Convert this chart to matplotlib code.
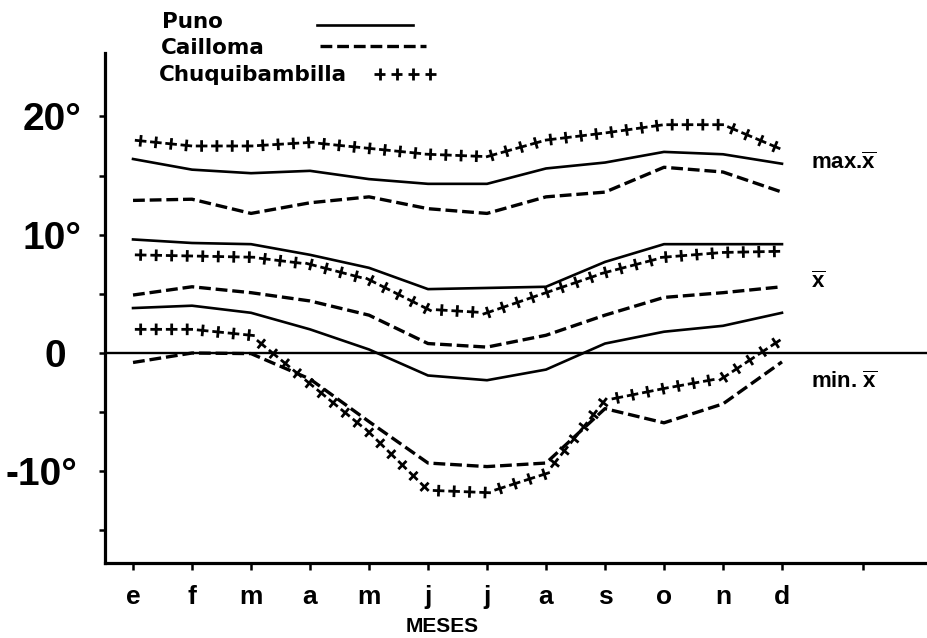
import matplotlib
matplotlib.use('Agg')
import matplotlib.pyplot as plt
from matplotlib import patheffects as pe
from matplotlib import font_manager as fm
from matplotlib.lines import Line2D
from matplotlib.transforms import ScaledTranslation

# ---------------- data ----------------
months = ['e', 'f', 'm', 'a', 'm', 'j', 'j', 'a', 's', 'o', 'n', 'd']
month_pos = list(range(1, 13))

puno_max = [16.4, 15.5, 15.2, 15.4, 14.7, 14.3, 14.3, 15.6, 16.1, 17.0, 16.8, 16.0]
cailloma_max = [12.9, 13.0, 11.8, 12.7, 13.2, 12.2, 11.8, 13.2, 13.6, 15.7, 15.3, 13.6]
chuqui_max = [18.0, 17.5, 17.5, 17.8, 17.3, 16.8, 16.6, 18.0, 18.6, 19.3, 19.3, 17.2]

puno_mean = [9.6, 9.3, 9.2, 8.3, 7.2, 5.4, 5.5, 5.6, 7.7, 9.2, 9.2, 9.2]
cailloma_mean = [4.9, 5.6, 5.1, 4.4, 3.2, 0.8, 0.5, 1.5, 3.2, 4.7, 5.1, 5.6]
chuqui_mean = [8.3, 8.2, 8.1, 7.5, 6.2, 3.7, 3.4, 5.1, 6.8, 8.1, 8.5, 8.6]

puno_min = [3.8, 4.0, 3.4, 2.0, 0.3, -1.9, -2.3, -1.4, 0.8, 1.8, 2.3, 3.4]
cailloma_min = [-0.8, 0.0, -0.05, -2.2, -5.8, -9.3, -9.6, -9.3, -4.7, -5.9, -4.3, -0.75]
chuqui_min = [2.0, 2.0, 1.5, -2.6, -6.7, -11.6, -11.8, -10.2, -4.0, -3.0, -2.1, 1.2]

series_names = ['Puno', 'Cailloma', 'Chuquibambilla']
yticks = [-15, -10, -5, 0, 5, 10, 15, 20]
ytick_labels = ['', '-10°', '', '0', '', '10°', '', '20°']
right_labels = [r'max.$\overline{\mathbf{x}}$', r'$\overline{\mathbf{x}}$', r'min. $\overline{\mathbf{x}}$']
right_label_y = [16.0, 6.0, -2.45]

# ---------------- style ----------------
plt.rcParams['lines.scale_dashes'] = False
plt.rcParams['mathtext.fontset'] = 'custom'
plt.rcParams['mathtext.rm'] = 'Liberation Sans'
plt.rcParams['mathtext.bf'] = 'Liberation Sans:bold'

names = {f.name for f in fm.fontManager.ttflist}
narrow = 'Liberation Sans Narrow' if 'Liberation Sans Narrow' in names else 'Liberation Sans'
ysize = 32 if narrow == 'Liberation Sans Narrow' else 28

W, H = 928, 638
fig = plt.figure(figsize=(W / 100, H / 100), dpi=100)
fig.patch.set_facecolor('white')


def fx(px):
    return px / W


def fy(py):
    return 1 - py / H


ax = fig.add_axes([fx(105), fy(563), 1 - fx(105), (563 - 53) / H])
ax.set_xlim(0.525, 14.475)
ax.set_ylim(-17.75, 25.36)

solid = dict(color='black', lw=1.9, ls='-', solid_joinstyle='round')
dashed = dict(color='black', lw=2.4, ls=(0, (8.5, 3.5)))


def plus_effects(spacing=11.0, length=0.38, lw=2.0):
    return [pe.TickedStroke(spacing=spacing, angle=a, length=length, linewidth=lw,
                            capstyle='butt')
            for a in (0, 90, 180, -90)]


plus = dict(color='black', lw=1.0, ls='-', path_effects=plus_effects())

for vals in (puno_max, puno_mean, puno_min):
    ax.plot(month_pos, vals, **solid)
for vals in (cailloma_max, cailloma_mean, cailloma_min):
    ax.plot(month_pos, vals, **dashed)
for vals in (chuqui_max, chuqui_mean, chuqui_min):
    ax.plot(month_pos, vals, **plus)

ax.axhline(0, color='black', lw=1.7)

# spines
for s in ('top', 'right'):
    ax.spines[s].set_visible(False)
ax.spines['left'].set_linewidth(2.3)
ax.spines['bottom'].set_linewidth(2.3)

# x ticks
ax.set_xticks(month_pos)
ax.set_xticklabels(months, fontsize=19, fontweight='bold', family='Liberation Sans')
ax.set_xticks([13.37], minor=True)
ax.tick_params(axis='x', which='both', direction='out', length=5, width=1.8, pad=11)

# y ticks
ax.set_yticks(yticks)
ax.set_yticklabels(ytick_labels, fontsize=ysize, fontweight='bold', family=narrow)
ax.tick_params(axis='y', direction='out', length=4, width=1.8, pad=13)
for lab in ax.get_yticklabels():
    t = lab.get_text()
    if t == '0':
        lab.set_transform(lab.get_transform() + ScaledTranslation(-0.15, 0, fig.dpi_scale_trans))
    elif t == '-10°':
        lab.set_transform(lab.get_transform() + ScaledTranslation(-0.04, 0, fig.dpi_scale_trans))

ax.set_xlabel('MESES', fontsize=15, fontweight='bold', family='Liberation Sans')
ax.xaxis.set_label_coords((442 - 105) / (W - 105), (563 - 617) / 510)

# right-hand labels
for lab, yv in zip(right_labels, right_label_y):
    ax.text(12.5, yv, lab, fontsize=16, fontweight='bold', family='Liberation Sans',
            ha='left', va='center')

# legend (manual, labels left, samples right)
leg_font = dict(fontsize=15.5, fontweight='bold', family='DejaVu Sans', ha='left', va='center')
fig.text(fx(162), fy(22), series_names[0], **leg_font)
fig.text(fx(161), fy(48), series_names[1], **leg_font)
fig.text(fx(159), fy(75), series_names[2], **leg_font)
fig.add_artist(Line2D([fx(317), fx(413)], [fy(25), fy(25)], transform=fig.transFigure, **solid))
fig.add_artist(Line2D([fx(320), fx(426)], [fy(46), fy(46)], transform=fig.transFigure, **dashed))
fig.add_artist(Line2D([fx(372), fx(438)], [fy(74), fy(74)], transform=fig.transFigure, **plus))

fig.savefig('out.png', dpi=100, facecolor='white')
